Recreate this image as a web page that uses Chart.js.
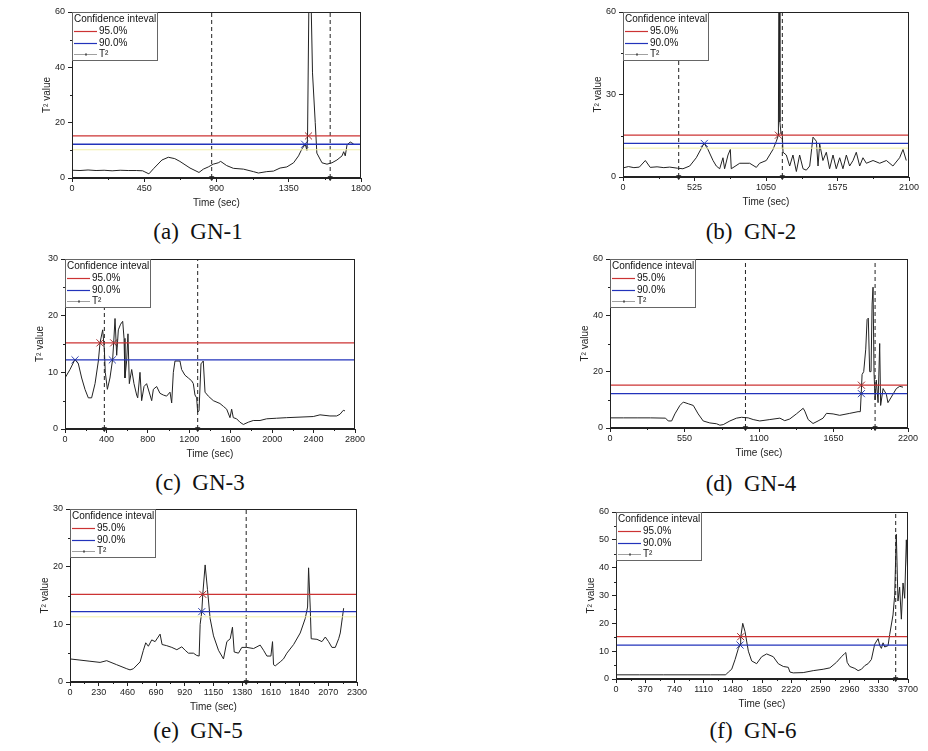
<!DOCTYPE html>
<html>
<head>
<meta charset="utf-8">
<script src="https://cdn.jsdelivr.net/npm/chart.js@4.4.1/dist/chart.umd.min.js"></script>
<style>
  body { margin: 0; background: #fff; width: 928px; height: 751px; position: relative; overflow: hidden; }
  .panel { position: absolute; }
  .cap { position: absolute; font-family: "Liberation Serif", serif; font-size: 23px; color: #111;
         white-space: pre; transform: translate(-50%, -50%); }
</style>
</head>
<body>
<script>
// confidence limits (same for every case)
const ucl95 = 15.2;
const ucl90 = 12.2;

// GN-1
const gn1Time = [0, 50, 100, 150, 200, 250, 300, 350, 400, 440, 454, 479, 510, 560, 600, 640, 672, 735, 791, 818, 849, 880, 911, 926, 963, 1005, 1068, 1130, 1161, 1213, 1255, 1296, 1338, 1380, 1411, 1432, 1453, 1463, 1467, 1480, 1498, 1515, 1525, 1557, 1588, 1619, 1650, 1682, 1692, 1702, 1713, 1733, 1754];
const gn1T2   = [2.8, 2.7, 2.9, 2.7, 2.8, 2.6, 2.8, 2.7, 2.7, 2.6, 2.2, 1.5, 3.5, 6.5, 7.5, 7.0, 6.0, 3.6, 2.0, 3.2, 4.0, 5.0, 5.5, 6.0, 4.5, 3.5, 3.2, 2.3, 1.8, 2.3, 2.5, 3.6, 4.0, 5.5, 8.0, 10.5, 12.2, 10.0, 15.0, 90, 38, 20, 9.0, 5.5, 5.0, 5.5, 6.5, 8.0, 9.5, 8.0, 12.0, 13.0, 12.3];
const gn1Alarm = [870, 1608];
const gn1Cross95 = [1473];
const gn1Cross90 = [1449];
const gn1Guide = 10.2;
const gn1XMax = 1800, gn1XStep = 450, gn1YMax = 60, gn1YStep = 20;

// GN-2
const gn2Time = [0, 40, 80, 120, 164, 200, 250, 300, 343, 400, 440, 490, 538, 587, 597, 624, 661, 685, 710, 734, 746, 771, 788, 795, 857, 930, 979, 1003, 1052, 1101, 1126, 1141, 1146, 1152, 1160, 1170, 1175, 1199, 1224, 1248, 1273, 1297, 1322, 1346, 1371, 1395, 1420, 1432, 1444, 1468, 1493, 1517, 1542, 1566, 1591, 1615, 1640, 1664, 1689, 1713, 1738, 1762, 1787, 1836, 1885, 1934, 1982, 2031, 2056, 2080];
const gn2T2   = [3.3, 3.8, 3.4, 3.6, 6.0, 3.5, 3.7, 3.4, 3.6, 3.2, 3.0, 4.0, 7.0, 11.5, 12.2, 10.0, 6.0, 4.0, 3.0, 7.0, 3.0, 8.0, 10.0, 3.0, 5.0, 5.0, 3.5, 5.0, 6.0, 10.0, 13.0, 15.2, 100, 20, 16, 15, 9.0, 8.0, 4.0, 8.0, 2.0, 8.0, 3.0, 2.5, 4.0, 14.5, 13.0, 4.0, 12.0, 6.0, 9.0, 3.0, 8.0, 3.0, 7.0, 3.0, 8.0, 4.0, 6.0, 9.0, 4.0, 7.0, 5.0, 6.0, 5.0, 6.0, 4.0, 7.0, 10.0, 6.0];
const gn2Alarm = [409, 1170];
const gn2Cross95 = [1141];
const gn2Cross90 = [597];
const gn2Guide = 10.5;
const gn2XMax = 2100, gn2XStep = 525, gn2YMax = 60, gn2YStep = 30;

// GN-3
const gn3Time = [0, 48, 97, 129, 161, 193, 225, 257, 290, 322, 338, 364, 380, 389, 409, 434, 460, 470, 483, 499, 515, 537, 557, 570, 579, 595, 608, 621, 644, 666, 692, 702, 724, 740, 763, 788, 821, 837, 853, 885, 917, 949, 981, 1014, 1030, 1046, 1062, 1110, 1126, 1158, 1191, 1223, 1239, 1255, 1271, 1281, 1294, 1313, 1335, 1352, 1384, 1432, 1496, 1529, 1561, 1593, 1609, 1625, 1657, 1689, 1722, 1770, 1818, 1883, 1947, 2043, 2140, 2269, 2397, 2462, 2558, 2623, 2655, 2687, 2703];
const gn3T2   = [9.0, 10.5, 12.3, 11.5, 9.0, 7.0, 5.5, 5.5, 8.0, 12.0, 15.2, 17.5, 14.0, 10.0, 7.0, 9.0, 12.3, 15.2, 19.5, 13.0, 17.5, 18.5, 19.0, 16.0, 9.0, 12.0, 16.8, 8.0, 10.5, 8.0, 6.0, 5.5, 10.0, 5.0, 7.5, 8.0, 6.0, 5.0, 7.0, 7.5, 6.3, 6.0, 5.8, 6.5, 4.6, 10.0, 12.0, 12.0, 10.5, 9.5, 9.0, 8.5, 8.0, 6.0, 5.5, 3.0, 3.2, 11.5, 12.0, 6.5, 5.8, 5.0, 4.5, 4.0, 3.5, 2.0, 3.5, 2.0, 1.8, 1.2, 0.8, 1.2, 1.5, 1.5, 1.8, 1.9, 2.0, 2.1, 2.2, 2.5, 2.3, 2.3, 2.6, 3.3, 3.2];
const gn3Alarm = [380, 1281];
const gn3Cross95 = [338, 470];
const gn3Cross90 = [97, 457];
const gn3Guide = null;
const gn3XMax = 2800, gn3XStep = 400, gn3YMax = 30, gn3YStep = 10;

// GN-4
const gn4Time = [0, 100, 200, 300, 410, 430, 455, 479, 516, 541, 578, 615, 651, 688, 737, 787, 811, 836, 885, 934, 971, 1020, 1057, 1106, 1180, 1254, 1290, 1327, 1376, 1426, 1438, 1463, 1499, 1536, 1573, 1598, 1647, 1696, 1770, 1831, 1848, 1856, 1861, 1873, 1888, 1898, 1907, 1917, 1927, 1935, 1942, 1949, 1957, 1966, 1979, 1991, 1998, 2016, 2040, 2052, 2077, 2114, 2139, 2163];
const gn4T2   = [3.6, 3.6, 3.6, 3.6, 3.5, 2.5, 2.5, 5.0, 8.0, 9.2, 8.6, 8.0, 5.0, 2.5, 1.8, 1.5, 1.0, 1.2, 2.5, 3.5, 3.8, 3.6, 3.0, 2.5, 3.0, 3.5, 2.6, 3.2, 5.0, 7.0, 6.0, 3.0, 1.6, 2.5, 3.5, 5.2, 5.0, 4.5, 5.2, 5.8, 5.8, 13.5, 19.0, 20.0, 28.0, 38.5, 39.0, 20.0, 20.0, 44.0, 50.0, 20.0, 10.0, 17.0, 9.0, 30.0, 8.0, 14.0, 12.0, 9.0, 11.0, 14.0, 14.8, 14.5];
const gn4Alarm = [1000, 1957];
const gn4Cross95 = [1856];
const gn4Cross90 = [1856];
const gn4Guide = null;
const gn4XMax = 2200, gn4XStep = 550, gn4YMax = 60, gn4YStep = 20;

// GN-5
const gn5Time = [0, 80, 160, 241, 294, 374, 455, 481, 508, 562, 588, 607, 628, 655, 682, 722, 738, 775, 816, 856, 896, 923, 949, 989, 1016, 1035, 1043, 1056, 1064, 1083, 1102, 1123, 1150, 1190, 1230, 1257, 1284, 1302, 1316, 1350, 1377, 1417, 1471, 1524, 1551, 1578, 1610, 1623, 1631, 1645, 1685, 1711, 1738, 1792, 1845, 1885, 1904, 1912, 1925, 1933, 1979, 2019, 2046, 2072, 2099, 2126, 2153, 2166, 2193];
const gn5T2   = [4.0, 3.8, 3.6, 3.4, 3.7, 3.0, 2.3, 2.1, 2.3, 3.5, 5.5, 6.8, 6.2, 7.3, 7.0, 8.3, 6.5, 6.3, 6.0, 5.6, 6.1, 5.5, 5.0, 5.0, 4.6, 4.5, 10.0, 12.2, 15.2, 20.3, 16.0, 11.0, 8.0, 5.5, 4.0, 7.0, 7.5, 9.5, 5.2, 5.0, 6.0, 6.0, 5.8, 6.4, 5.5, 4.5, 4.5, 7.0, 3.0, 2.8, 3.5, 4.0, 5.0, 6.5, 8.5, 11.0, 13.0, 19.8, 13.0, 7.5, 7.4, 7.0, 7.8, 7.0, 6.0, 6.0, 7.5, 8.5, 12.8];
const gn5Alarm = [1412];
const gn5Cross95 = [1064];
const gn5Cross90 = [1056];
const gn5Guide = 11.3;
const gn5XMax = 2300, gn5XStep = 230, gn5YMax = 30, gn5YStep = 10;

// GN-6
const gn6Time = [0, 300, 600, 900, 1200, 1390, 1424, 1466, 1509, 1551, 1572, 1580, 1606, 1635, 1677, 1719, 1782, 1846, 1909, 1993, 2056, 2120, 2183, 2204, 2246, 2372, 2499, 2625, 2710, 2794, 2857, 2899, 2912, 2929, 2962, 3026, 3068, 3110, 3152, 3194, 3236, 3278, 3321, 3342, 3363, 3384, 3405, 3447, 3468, 3510, 3531, 3552, 3573, 3594, 3616, 3637, 3658, 3679, 3700];
const gn6T2   = [1.5, 1.5, 1.5, 1.5, 1.5, 1.5, 2.5, 3.5, 7.0, 11.0, 12.2, 15.0, 20.0, 17.0, 10.0, 6.5, 5.5, 8.0, 9.0, 8.0, 5.5, 4.5, 4.2, 2.5, 2.2, 2.3, 3.0, 3.5, 4.0, 6.0, 8.0, 9.2, 9.5, 6.0, 4.5, 3.8, 3.0, 3.5, 4.8, 5.5, 7.0, 12.5, 14.5, 12.0, 11.0, 13.0, 11.5, 12.0, 16.0, 23.0, 30.0, 52.0, 28.0, 33.0, 21.5, 34.5, 29.0, 50.0, 36.0];
const gn6Alarm = [3544];
const gn6Cross95 = [1580];
const gn6Cross90 = [1572];
const gn6Guide = null;
const gn6XMax = 3700, gn6XStep = 370, gn6YMax = 60, gn6YStep = 10;

const captions = ['(a)  GN-1', '(b)  GN-2', '(c)  GN-3', '(d)  GN-4', '(e)  GN-5', '(f)  GN-6'];

// page layout: plot rectangle [left, top, right, bottom] and caption centre
const panels = [
  { box: [72, 12, 361, 178],  cap: [198, 232], time: gn1Time, t2: gn1T2, alarm: gn1Alarm, c95: gn1Cross95, c90: gn1Cross90, guide: gn1Guide, xMax: gn1XMax, xStep: gn1XStep, yMax: gn1YMax, yStep: gn1YStep },
  { box: [623, 12, 909, 177], cap: [751, 232], time: gn2Time, t2: gn2T2, alarm: gn2Alarm, c95: gn2Cross95, c90: gn2Cross90, guide: gn2Guide, xMax: gn2XMax, xStep: gn2XStep, yMax: gn2YMax, yStep: gn2YStep },
  { box: [65, 259, 355, 429], cap: [200, 483], time: gn3Time, t2: gn3T2, alarm: gn3Alarm, c95: gn3Cross95, c90: gn3Cross90, guide: gn3Guide, xMax: gn3XMax, xStep: gn3XStep, yMax: gn3YMax, yStep: gn3YStep },
  { box: [610, 259, 908, 428], cap: [751, 484], time: gn4Time, t2: gn4T2, alarm: gn4Alarm, c95: gn4Cross95, c90: gn4Cross90, guide: gn4Guide, xMax: gn4XMax, xStep: gn4XStep, yMax: gn4YMax, yStep: gn4YStep },
  { box: [70, 509, 357, 682], cap: [198, 731], time: gn5Time, t2: gn5T2, alarm: gn5Alarm, c95: gn5Cross95, c90: gn5Cross90, guide: gn5Guide, xMax: gn5XMax, xStep: gn5XStep, yMax: gn5YMax, yStep: gn5YStep },
  { box: [616, 512, 908, 679], cap: [753, 731], time: gn6Time, t2: gn6T2, alarm: gn6Alarm, c95: gn6Cross95, c90: gn6Cross90, guide: gn6Guide, xMax: gn6XMax, xStep: gn6XStep, yMax: gn6YMax, yStep: gn6YStep }
];

const RED = '#cc3333', BLUE = '#2233bb', INK = '#222';
const PL = 50, PT = 8, PR = 12, PB = 34;
const tickFont = { family: 'Liberation Sans', size: 9 };

// box frame, minor ticks and the in-plot legend (Origin style)
const framePlugin = {
  id: 'frame',
  afterDatasetsDraw(chart) {
    const { ctx, chartArea: a, scales } = chart;
    ctx.save();
    ctx.strokeStyle = INK;
    ctx.lineWidth = 1;
    ctx.strokeRect(a.left + 0.5, a.top + 0.5, a.right - a.left - 1, a.bottom - a.top - 1);
    // minor ticks
    const xs = scales.x, ys = scales.y;
    const xStep = xs.options.ticks.stepSize, yStep = ys.options.ticks.stepSize;
    ctx.beginPath();
    for (let v = xStep / 2; v < xs.max; v += xStep) {
      const px = Math.round(xs.getPixelForValue(v)) + 0.5;
      ctx.moveTo(px, a.bottom); ctx.lineTo(px, a.bottom + 2);
    }
    for (let v = yStep / 2; v < ys.max; v += yStep) {
      const py = Math.round(ys.getPixelForValue(v)) + 0.5;
      ctx.moveTo(a.left, py); ctx.lineTo(a.left - 2, py);
    }
    ctx.stroke();
    // legend
    const lx = a.left, ly = a.top, w = 85, h = 48;
    ctx.fillStyle = '#fff';
    ctx.fillRect(lx, ly, w, h);
    ctx.strokeStyle = '#666';
    ctx.strokeRect(lx + 0.5, ly + 0.5, w, h);
    ctx.font = '10px "Liberation Sans", Arial, sans-serif';
    ctx.textBaseline = 'middle';
    ctx.fillStyle = '#111';
    ctx.fillText('Confidence inteval', lx + 2, ly + 7);
    const rows = [['95.0%', RED, 1.2], ['90.0%', BLUE, 1.2], ['T²', '#888', 0.8]];
    rows.forEach((r, i) => {
      const y = Math.round(ly + 19 + i * 11.5) + 0.5;
      ctx.strokeStyle = r[1];
      ctx.lineWidth = r[2];
      ctx.beginPath(); ctx.moveTo(lx + 2, y); ctx.lineTo(lx + 25, y); ctx.stroke();
      if (i === 2) { ctx.fillStyle = '#555'; ctx.fillRect(lx + 13, y - 1, 2, 2); }
      ctx.fillStyle = '#111';
      ctx.fillText(r[0], lx + 27, y);
    });
    ctx.restore();
  }
};

function makePanel(p, idx) {
  const [l, t, r, b] = p.box;
  const W = r - l + PL + PR, H = b - t + PT + PB;
  const wrap = document.createElement('div');
  wrap.className = 'panel';
  wrap.style.left = (l - PL) + 'px';
  wrap.style.top = (t - PT) + 'px';
  const cv = document.createElement('canvas');
  cv.width = W; cv.height = H;
  cv.style.width = W + 'px'; cv.style.height = H + 'px';
  wrap.appendChild(cv);
  document.body.appendChild(wrap);

  const cap = document.createElement('div');
  cap.className = 'cap';
  cap.style.left = p.cap[0] + 'px';
  cap.style.top = p.cap[1] + 'px';
  cap.textContent = captions[idx];
  document.body.appendChild(cap);

  const flat = (v, color, w) => ({
    type: 'line', data: [{ x: 0, y: v }, { x: p.xMax, y: v }],
    borderColor: color, borderWidth: w, pointRadius: 0
  });
  const datasets = [];
  if (p.guide !== null) datasets.push(flat(p.guide, '#f2f0a8', 1));
  datasets.push(flat(ucl95, RED, 1.3));
  datasets.push(flat(ucl90, BLUE, 1.3));
  datasets.push({
    type: 'line', data: p.time.map((x, i) => ({ x, y: p.t2[i] })),
    borderColor: INK, borderWidth: 1, pointRadius: 0
  });
  p.alarm.forEach(x => datasets.push({
    type: 'line', data: [{ x, y: 0 }, { x, y: p.yMax }],
    borderColor: INK, borderWidth: 1, borderDash: [4, 3], clip: false,
    pointRadius: [2.5, 0], pointStyle: 'triangle', pointRotation: 180,
    pointBackgroundColor: INK, pointBorderColor: INK
  }));
  datasets.push({
    type: 'scatter', data: p.c95.map(x => ({ x, y: ucl95 })),
    pointStyle: 'crossRot', pointRadius: 5, borderColor: '#a03030', borderWidth: 1
  });
  datasets.push({
    type: 'scatter', data: p.c90.map(x => ({ x, y: ucl90 })),
    pointStyle: 'crossRot', pointRadius: 5, borderColor: '#3344aa', borderWidth: 1
  });

  new Chart(cv.getContext('2d'), {
    type: 'line',
    data: { datasets },
    plugins: [framePlugin],
    options: {
      responsive: false,
      animation: false,
      events: [],
      layout: { padding: { left: 0, top: PT, right: PR, bottom: 0 } },
      plugins: { legend: { display: false }, tooltip: { enabled: false } },
      scales: {
        x: {
          type: 'linear', min: 0, max: p.xMax,
          ticks: { stepSize: p.xStep, font: tickFont, color: INK, padding: 1, maxRotation: 0, autoSkip: false,
                   callback: v => String(v) },
          grid: { drawOnChartArea: false, drawTicks: true, tickLength: 4, color: INK },
          border: { color: INK },
          title: { display: true, text: 'Time (sec)', color: INK,
                   font: { family: 'Liberation Sans', size: 10 }, padding: { top: 0, bottom: 3 } },
          afterFit(s) { s.height = PB; s.paddingLeft = 0; s.paddingRight = 0; }
        },
        y: {
          type: 'linear', min: 0, max: p.yMax,
          ticks: { stepSize: p.yStep, font: tickFont, color: INK, padding: 3, callback: v => String(v) },
          grid: { drawOnChartArea: false, drawTicks: true, tickLength: 4, color: INK },
          border: { color: INK },
          title: { display: true, text: 'T² value', color: INK,
                   font: { family: 'Liberation Sans', size: 10 }, padding: { top: 19, bottom: 0 } },
          afterFit(s) { s.width = PL; s.paddingTop = 0; s.paddingBottom = 0; }
        }
      }
    }
  });
}

panels.forEach(makePanel);
</script>
</body>
</html>
